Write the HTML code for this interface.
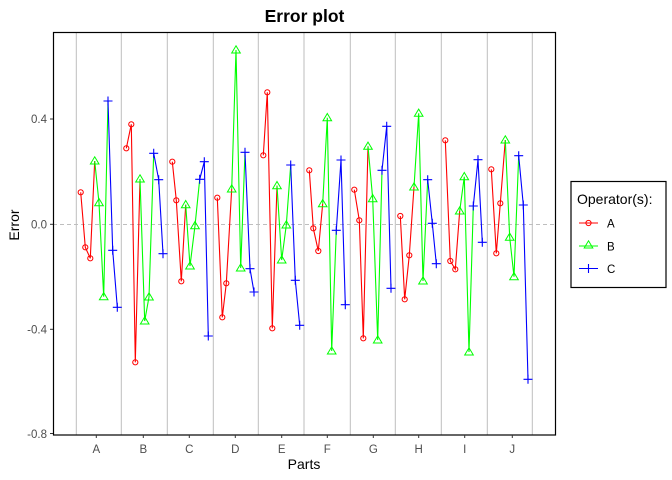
<!DOCTYPE html>
<html><head><meta charset="utf-8"><style>body{margin:0;background:#fff}svg{display:block}text{font-family:"Liberation Sans",Arial,sans-serif}</style></head>
<body>
<svg width="672" height="480" viewBox="0 0 672 480" xmlns="http://www.w3.org/2000/svg">
<defs>
<circle id="c" r="2.6" fill="none" stroke="#f00" stroke-width="1"/>
<path id="t" d="M0,-4.2 L4.3,3 L-4.3,3 Z" fill="none" stroke="#0f0" stroke-width="1"/>
<path id="p" d="M-4.5,0 H4.5 M0,-4.5 V4.5" stroke="#00f" stroke-width="1.1"/>
</defs>
<rect width="672" height="480" fill="#fff"/>
<g stroke="#bebebe" stroke-width="1">
<line x1="76.3" y1="33" x2="76.3" y2="435"/><line x1="121.3" y1="33" x2="121.3" y2="435"/><line x1="167.3" y1="33" x2="167.3" y2="435"/><line x1="213.3" y1="33" x2="213.3" y2="435"/><line x1="258.3" y1="33" x2="258.3" y2="435"/><line x1="304" y1="33" x2="304" y2="435"/><line x1="350.3" y1="33" x2="350.3" y2="435"/><line x1="395.3" y1="33" x2="395.3" y2="435"/><line x1="441.3" y1="33" x2="441.3" y2="435"/><line x1="487.3" y1="33" x2="487.3" y2="435"/><line x1="532.3" y1="33" x2="532.3" y2="435"/>
</g>
<line x1="53" y1="224.5" x2="555" y2="224.5" stroke="#bebebe" stroke-dasharray="4,3"/>
<g fill="none" stroke-width="1.1">
<g stroke="#f00">
<polyline points="80.7,192.3 85.3,247.3 90.3,258.3 94.7,161"/>
<polyline points="126.3,148.3 131.3,124.3 135.3,362.3 140,179"/>
<polyline points="172.3,161.7 176.3,200.3 181.3,281.3 185.7,204.7"/>
<polyline points="217.3,197.7 222.3,317.3 226.3,283.3 231.7,189"/>
<polyline points="263.3,155.3 267.3,92.3 272.3,328.3 277,185.7"/>
<polyline points="309.3,170.3 313.3,228.3 318.3,251 322.7,203.7"/>
<polyline points="354.3,189.7 359.3,220.3 363.3,338.3 368,146.3"/>
<polyline points="400.3,216 404.7,299.3 409.3,255.3 414,187"/>
<polyline points="445.3,140.3 450.3,261 455.3,269.3 459.7,211"/>
<polyline points="491.3,169.3 496.3,253.3 500.3,203.3 505.3,140"/>
</g>
<g stroke="#0f0">
<polyline points="94.7,161 99,202.7 103.7,296.7 108,101"/>
<polyline points="140,179 144.7,321 149,297 153.7,153.3"/>
<polyline points="185.7,204.7 190,266 195,225.7 199.7,179.3"/>
<polyline points="231.7,189 236,50 240.7,268 245,152.3"/>
<polyline points="277,185.7 281.7,260 286.3,225 290.7,165"/>
<polyline points="322.7,203.7 327.3,117.7 331.7,351 336.3,230.3"/>
<polyline points="368,146.3 372.7,198.7 377.7,340 382,170.3"/>
<polyline points="414,187 418.7,113.3 423,281 427.7,179.7"/>
<polyline points="459.7,211 464.3,176.7 469,352 473.3,206"/>
<polyline points="505.3,140 509.7,237.3 514,276.7 518.7,155.7"/>
</g>
<g stroke="#00f">
<polyline points="108,101 112.7,250.3 117.3,307.3"/>
<polyline points="153.7,153.3 158.7,179.7 163,253.7"/>
<polyline points="199.7,179.3 204.3,161.7 208.3,336"/>
<polyline points="245,152.3 250,268.7 254,292"/>
<polyline points="290.7,165 295.3,280.3 299.7,325.3"/>
<polyline points="336.3,230.3 341,160 345.3,304.7"/>
<polyline points="382,170.3 386.7,126.3 391,288.3"/>
<polyline points="427.7,179.7 432.3,223.3 436.3,263.7"/>
<polyline points="473.3,206 478,159.7 482.3,242.3"/>
<polyline points="518.7,155.7 523.3,205 528,379.3"/>
</g>
</g>
<g>
<use href="#c" x="80.7" y="192.3"/><use href="#c" x="85.3" y="247.3"/><use href="#c" x="90.3" y="258.3"/>
<use href="#c" x="126.3" y="148.3"/><use href="#c" x="131.3" y="124.3"/><use href="#c" x="135.3" y="362.3"/>
<use href="#c" x="172.3" y="161.7"/><use href="#c" x="176.3" y="200.3"/><use href="#c" x="181.3" y="281.3"/>
<use href="#c" x="217.3" y="197.7"/><use href="#c" x="222.3" y="317.3"/><use href="#c" x="226.3" y="283.3"/>
<use href="#c" x="263.3" y="155.3"/><use href="#c" x="267.3" y="92.3"/><use href="#c" x="272.3" y="328.3"/>
<use href="#c" x="309.3" y="170.3"/><use href="#c" x="313.3" y="228.3"/><use href="#c" x="318.3" y="251"/>
<use href="#c" x="354.3" y="189.7"/><use href="#c" x="359.3" y="220.3"/><use href="#c" x="363.3" y="338.3"/>
<use href="#c" x="400.3" y="216"/><use href="#c" x="404.7" y="299.3"/><use href="#c" x="409.3" y="255.3"/>
<use href="#c" x="445.3" y="140.3"/><use href="#c" x="450.3" y="261"/><use href="#c" x="455.3" y="269.3"/>
<use href="#c" x="491.3" y="169.3"/><use href="#c" x="496.3" y="253.3"/><use href="#c" x="500.3" y="203.3"/>
<use href="#t" x="94.7" y="161"/><use href="#t" x="99" y="202.7"/><use href="#t" x="103.7" y="296.7"/>
<use href="#t" x="140" y="179"/><use href="#t" x="144.7" y="321"/><use href="#t" x="149" y="297"/>
<use href="#t" x="185.7" y="204.7"/><use href="#t" x="190" y="266"/><use href="#t" x="195" y="225.7"/>
<use href="#t" x="231.7" y="189"/><use href="#t" x="236" y="50"/><use href="#t" x="240.7" y="268"/>
<use href="#t" x="277" y="185.7"/><use href="#t" x="281.7" y="260"/><use href="#t" x="286.3" y="225"/>
<use href="#t" x="322.7" y="203.7"/><use href="#t" x="327.3" y="117.7"/><use href="#t" x="331.7" y="351"/>
<use href="#t" x="368" y="146.3"/><use href="#t" x="372.7" y="198.7"/><use href="#t" x="377.7" y="340"/>
<use href="#t" x="414" y="187"/><use href="#t" x="418.7" y="113.3"/><use href="#t" x="423" y="281"/>
<use href="#t" x="459.7" y="211"/><use href="#t" x="464.3" y="176.7"/><use href="#t" x="469" y="352"/>
<use href="#t" x="505.3" y="140"/><use href="#t" x="509.7" y="237.3"/><use href="#t" x="514" y="276.7"/>
<use href="#p" x="108" y="101"/><use href="#p" x="112.7" y="250.3"/><use href="#p" x="117.3" y="307.3"/>
<use href="#p" x="153.7" y="153.3"/><use href="#p" x="158.7" y="179.7"/><use href="#p" x="163" y="253.7"/>
<use href="#p" x="199.7" y="179.3"/><use href="#p" x="204.3" y="161.7"/><use href="#p" x="208.3" y="336"/>
<use href="#p" x="245" y="152.3"/><use href="#p" x="250" y="268.7"/><use href="#p" x="254" y="292"/>
<use href="#p" x="290.7" y="165"/><use href="#p" x="295.3" y="280.3"/><use href="#p" x="299.7" y="325.3"/>
<use href="#p" x="336.3" y="230.3"/><use href="#p" x="341" y="160"/><use href="#p" x="345.3" y="304.7"/>
<use href="#p" x="382" y="170.3"/><use href="#p" x="386.7" y="126.3"/><use href="#p" x="391" y="288.3"/>
<use href="#p" x="427.7" y="179.7"/><use href="#p" x="432.3" y="223.3"/><use href="#p" x="436.3" y="263.7"/>
<use href="#p" x="473.3" y="206"/><use href="#p" x="478" y="159.7"/><use href="#p" x="482.3" y="242.3"/>
<use href="#p" x="518.7" y="155.7"/><use href="#p" x="523.3" y="205"/><use href="#p" x="528" y="379.3"/>
</g>
<rect x="53.5" y="32.5" width="502" height="402.5" fill="none" stroke="#000" stroke-width="1.2"/>
<g stroke="#333" stroke-width="1">
<line x1="50" y1="119" x2="53" y2="119"/><line x1="50" y1="224.3" x2="53" y2="224.3"/><line x1="50" y1="329.3" x2="53" y2="329.3"/><line x1="50" y1="433.5" x2="53" y2="433.5"/>
<line x1="96.3" y1="435" x2="96.3" y2="438"/><line x1="143.3" y1="435" x2="143.3" y2="438"/><line x1="189.3" y1="435" x2="189.3" y2="438"/><line x1="235.3" y1="435" x2="235.3" y2="438"/><line x1="281.7" y1="435" x2="281.7" y2="438"/><line x1="327.3" y1="435" x2="327.3" y2="438"/><line x1="373.3" y1="435" x2="373.3" y2="438"/><line x1="418.7" y1="435" x2="418.7" y2="438"/><line x1="464.7" y1="435" x2="464.7" y2="438"/><line x1="512.3" y1="435" x2="512.3" y2="438"/>
</g>
<g font-size="11.5" fill="#4d4d4d" text-anchor="end">
<text x="47" y="123">0.4</text><text x="47" y="228.5">0.0</text><text x="47" y="333.5">-0.4</text><text x="47" y="438">-0.8</text>
</g>
<g font-size="11.5" fill="#4d4d4d" text-anchor="middle">
<text x="96.3" y="453">A</text><text x="143.3" y="453">B</text><text x="189.3" y="453">C</text><text x="235.3" y="453">D</text><text x="281.7" y="453">E</text><text x="327.3" y="453">F</text><text x="373.3" y="453">G</text><text x="418.7" y="453">H</text><text x="464.7" y="453">I</text><text x="512.3" y="453">J</text>
</g>
<text x="304" y="469" font-size="14" text-anchor="middle">Parts</text>
<text transform="translate(19,225) rotate(-90)" font-size="14" text-anchor="middle">Error</text>
<text x="304.5" y="22" font-size="17.5" font-weight="bold" text-anchor="middle">Error plot</text>
<rect x="571" y="181.5" width="95" height="106" fill="#fff" stroke="#000" stroke-width="1.2"/>
<text x="577" y="204" font-size="14">Operator(s):</text>
<g stroke-width="1.1">
<line x1="579" y1="223" x2="598" y2="223" stroke="#f00"/><use href="#c" x="588.5" y="223"/>
<line x1="579" y1="246" x2="598" y2="246" stroke="#0f0"/><use href="#t" x="588.5" y="245"/>
<line x1="579" y1="268.5" x2="598" y2="268.5" stroke="#00f"/><use href="#p" x="588.5" y="268.5"/>
</g>
<g font-size="11.5" fill="#000">
<text x="607" y="227.5">A</text><text x="607" y="250.5">B</text><text x="607" y="273">C</text>
</g>
</svg>
</body></html>
